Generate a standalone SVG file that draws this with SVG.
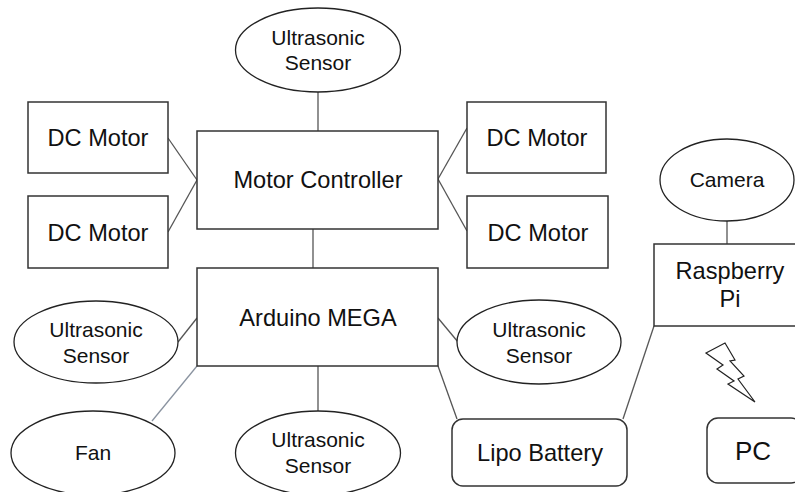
<svg xmlns="http://www.w3.org/2000/svg" width="795" height="492" viewBox="0 0 795 492">
<style>
.n{fill:#fff;stroke:#333;stroke-width:1.5}
.e{fill:#fff;stroke:#222;stroke-width:1.3}
.c{fill:none;stroke:#555;stroke-width:1.3}
text{font-family:"Liberation Sans",Arial,sans-serif;fill:#111;text-anchor:middle}
.t1{font-size:23.6px}
.t2{font-size:21px}
</style>
<rect width="795" height="492" fill="#fff"/>
<g id="connectors">
<line class="c" x1="318" y1="92" x2="318" y2="131"/>
<line class="c" x1="168" y1="138" x2="197" y2="180"/>
<line class="c" x1="168" y1="232" x2="197" y2="180"/>
<line class="c" x1="438" y1="179" x2="467" y2="128"/>
<line class="c" x1="438" y1="179" x2="467" y2="231"/>
<line class="c" x1="313" y1="229" x2="313" y2="268"/>
<line class="c" x1="178" y1="342" x2="197" y2="318"/>
<line class="c" x1="438" y1="318" x2="458" y2="342"/>
<line x1="197" y1="366" x2="152" y2="421" fill="none" stroke="#8a93a0" stroke-width="1.3"/>
<line class="c" x1="318" y1="366" x2="318" y2="411"/>
<line class="c" x1="438" y1="366" x2="457" y2="419"/>
<line class="c" x1="654" y1="326" x2="623" y2="419"/>
<line class="c" x1="727" y1="221" x2="727" y2="244"/>
</g>
<g id="us-top"><ellipse class="e" cx="318" cy="50" rx="82.500" ry="42"/><text class="t2" x="318" y="45">Ultrasonic</text><text class="t2" x="318" y="70">Sensor</text></g>
<g id="dc1"><rect class="n" x="28" y="102" width="140" height="71"/><text class="t1" x="98" y="146">DC Motor</text></g>
<g id="dc2"><rect class="n" x="28" y="196" width="140" height="72"/><text class="t1" x="98" y="241">DC Motor</text></g>
<g id="dc3"><rect class="n" x="467" y="102" width="139" height="71"/><text class="t1" x="537" y="146">DC Motor</text></g>
<g id="dc4"><rect class="n" x="467" y="196" width="141" height="72"/><text class="t1" x="538" y="241">DC Motor</text></g>
<g id="motor-controller"><rect class="n" x="197" y="131" width="241" height="98"/><text class="t1" x="318" y="188">Motor Controller</text></g>
<g id="arduino"><rect class="n" x="197" y="268" width="241" height="98"/><text class="t1" x="318" y="326">Arduino MEGA</text></g>
<g id="us-left"><ellipse class="e" cx="96" cy="342" rx="82" ry="41"/><text class="t2" x="96" y="337">Ultrasonic</text><text class="t2" x="96" y="363">Sensor</text></g>
<g id="us-right"><ellipse class="e" cx="539" cy="342" rx="82" ry="42"/><text class="t2" x="539" y="337">Ultrasonic</text><text class="t2" x="539" y="363">Sensor</text></g>
<g id="us-bottom"><ellipse class="e" cx="318" cy="453" rx="82.500" ry="42"/><text class="t2" x="318" y="447">Ultrasonic</text><text class="t2" x="318" y="473">Sensor</text></g>
<g id="fan"><ellipse class="e" cx="93" cy="453" rx="82" ry="42"/><text class="t2" x="93" y="460">Fan</text></g>
<g id="camera"><ellipse class="e" cx="727" cy="180" rx="67" ry="41"/><text class="t2" x="727" y="187">Camera</text></g>
<g id="raspberry"><rect class="n" x="654" y="244" width="150" height="82"/><text class="t1" x="730" y="279">Raspberry</text><text class="t1" x="730" y="307">Pi</text></g>
<g id="battery"><rect class="n" x="452" y="419" width="175" height="67" rx="11"/><text class="t1" x="540" y="461">Lipo Battery</text></g>
<g id="pc"><rect class="n" x="707" y="418" width="95" height="65" rx="11"/><text x="753" y="460" font-size="26">PC</text></g>
<polygon id="bolt" points="706,353 725,343 735,360 730,361 744,376 738,379 755,402 728,384 734,381 717,369 723,365" fill="#fff" stroke="#222" stroke-width="1.2"/>
</svg>
